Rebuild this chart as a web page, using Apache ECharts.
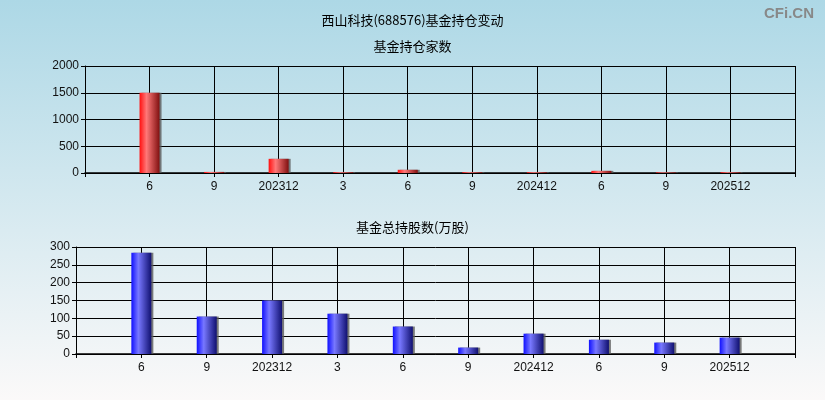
<!DOCTYPE html>
<html><head><meta charset="utf-8">
<script src="https://cdn.jsdelivr.net/npm/echarts@6/dist/echarts.min.js"></script>
<style>html,body{margin:0;padding:0;}#c{width:825px;height:400px;}</style>
</head><body><div id="c"></div>
<script>
var categories = ['', '6', '9', '202312', '3', '6', '9', '202412', '6', '9', '202512', ''];
var fundCount = [null, 1500, 20, 265, 15, 60, 15, 15, 40, 12, 15, null];
var fundShares = [null, 284, 105, 150, 113, 77, 18, 57, 40, 32, 46, null];
var countTicks = [0, 500, 1000, 1500, 2000];
var shareTicks = [0, 50, 100, 150, 200, 250, 300];

function grad(c1, c2, c3) {
  return new echarts.graphic.LinearGradient(0, 0, 1, 0, [
    {offset: 0, color: c1}, {offset: 0.35, color: c2}, {offset: 1, color: c3}
  ]);
}
var labelFont = {color: '#111', fontSize: 12, fontFamily: 'Liberation Sans, Arial, sans-serif'};
function xAxis(idx) {
  return {
    type: 'category', gridIndex: idx, data: categories, boundaryGap: false,
    axisLine: {lineStyle: {color: '#000', width: 1.5}},
    axisTick: {show: true, length: 4, interval: 0, lineStyle: {color: '#000'}},
    axisLabel: Object.assign({margin: 8, interval: 0}, labelFont),
    splitLine: {show: true, interval: 0, lineStyle: {color: '#000', width: 1}}
  };
}
function yAxis(idx, ticks) {
  return {
    type: 'value', gridIndex: idx, min: ticks[0], max: ticks[ticks.length - 1],
    interval: ticks[1] - ticks[0],
    axisLine: {show: true, lineStyle: {color: '#000', width: 1}},
    axisTick: {show: true, length: 4, lineStyle: {color: '#000'}},
    axisLabel: Object.assign({margin: 6, formatter: function (v) { return String(v); }}, labelFont),
    splitLine: {show: true, lineStyle: {color: '#000', width: 1}}
  };
}
var chart = echarts.init(document.getElementById('c'));
chart.setOption({
  animation: false,
  backgroundColor: new echarts.graphic.LinearGradient(0, 0, 0, 1, [
    {offset: 0, color: '#add8e6'}, {offset: 1, color: '#fbf9f9'}
  ]),
  title: [
    {text: '西山科技(688576)基金持仓变动', left: 'center', top: 9,
     textStyle: {fontSize: 13, fontWeight: 'normal', color: '#000', fontFamily: 'Noto Sans CJK SC'}},
    {text: '基金持仓家数', left: 'center', top: 35,
     textStyle: {fontSize: 13, fontWeight: 'normal', color: '#000', fontFamily: 'Noto Sans CJK SC'}},
    {text: '基金总持股数(万股)', left: 'center', top: 216,
     textStyle: {fontSize: 13, fontWeight: 'normal', color: '#000', fontFamily: 'Noto Sans CJK SC'}},
    {text: 'CFi.CN', right: 6, top: 1,
     textStyle: {fontSize: 15, fontWeight: 'bold', color: '#888', fontFamily: 'Liberation Sans, Arial'}}
  ],
  grid: [
    {left: 85, right: 30, top: 66, height: 107, show: false},
    {left: 76, right: 30, top: 247, height: 107, show: false}
  ],
  xAxis: [xAxis(0), xAxis(1)],
  yAxis: [yAxis(0, countTicks), yAxis(1, shareTicks)],
  series: [
    {type: 'bar', xAxisIndex: 0, yAxisIndex: 0, data: fundCount, barWidth: 20,
     itemStyle: {color: grad('#ff1010', '#ff7878', '#801010'),
       shadowColor: 'rgba(90,90,90,0.8)', shadowOffsetX: 2, shadowBlur: 0}},
    {type: 'bar', xAxisIndex: 1, yAxisIndex: 1, data: fundShares, barWidth: 20,
     itemStyle: {color: grad('#1010ff', '#7878ff', '#101070'),
       shadowColor: 'rgba(90,90,90,0.8)', shadowOffsetX: 2, shadowBlur: 0}}
  ]
});
</script></body></html>
